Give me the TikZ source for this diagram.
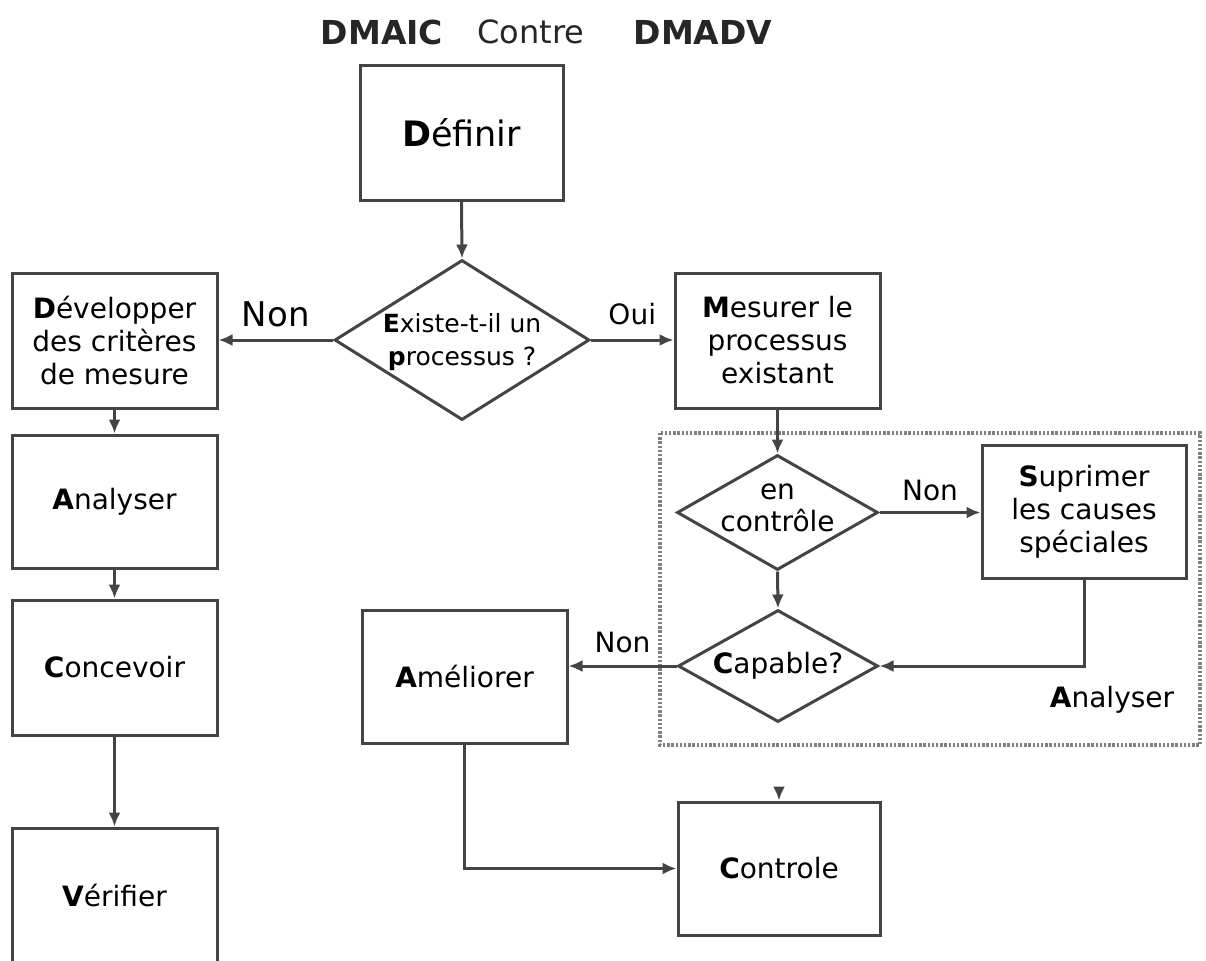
\documentclass[tikz,border=0pt]{standalone}
\usepackage{fontspec}
\setmainfont{DejaVu Sans}
\usetikzlibrary{arrows.meta,shapes.geometric}
\definecolor{ln}{HTML}{444444}
\definecolor{dotc}{HTML}{808080}
\tikzset{
  box/.style={draw=ln, line width=1.5pt, rectangle, minimum width=102.5pt, minimum height=67.5pt, inner sep=0pt, align=center, font=\fontsize{14}{16.5}\selectfont},
  dia/.style={draw=ln, line width=1.5pt, diamond, inner sep=0pt},
  arr/.style={draw=ln, line width=1.5pt, -{Latex[length=7pt,width=6pt]}},
  lbl/.style={font=\fontsize{14}{16}\selectfont, inner sep=0pt},
  dotbox/.style={draw=dotc, line width=1.8pt, dash pattern=on 1.2pt off 0.9pt},
  ttl/.style={font=\fontsize{16.5}{18}\selectfont, text=black!85, inner sep=0pt}
}
\begin{document}
\begin{tikzpicture}[x=0.5pt,y=-0.5pt]
\useasboundingbox (0,0) rectangle (1206,960);
% title
\node[ttl] (t1) at (382,32) {\textbf{DMAIC}};
\node[ttl, font=\fontsize{16}{18}\selectfont] (t2) at (531,32) {Contre};
\node[ttl] (t3) at (703,32) {\textbf{DMADV}};
% dotted group
\draw[dotbox] (660,433) rectangle (1200,745);
% boxes
\node[box, minimum width=101.5pt, font=\fontsize{17.5}{20}\selectfont] (def) at (461.5,132.5) {\textbf{D}éfinir};
\node[box] (dev) at (114.5,340.5) {\textbf{D}évelopper\\des critères\\de mesure};
\node[box, minimum height=66.5pt] (ana) at (114.5,501.5) {\textbf{A}nalyser};
\node[box] (con) at (114.5,667.5) {\textbf{C}oncevoir};
\node[box] (ver) at (114.5,895.5) {\textbf{V}érifier};
\node[box] (mes) at (777.5,340.5) {\textbf{M}esurer le\\processus\\existant};
\node[box, minimum width=102pt, minimum height=66.5pt] (sup) at (1084,511.5) {\textbf{S}uprimer\\les causes\\spéciales};
\node[box, minimum height=66.5pt] (ame) at (464.5,676.5) {\textbf{A}méliorer};
\node[box, minimum width=101pt, minimum height=66.5pt] (ctl) at (779,868.5) {\textbf{C}ontrole};
% diamonds
\node[dia, minimum width=127.5pt, minimum height=80pt,
  label={[align=center, font=\fontsize{12.5}{16.5}\selectfont, yshift=-1pt]center:\textbf{E}xiste-t-il un\\\textbf{p}rocessus ?}] (d1) at (462,340) {};
\node[dia, minimum width=100.5pt, minimum height=57.5pt,
  label={[align=center, font=\fontsize{14}{16}\selectfont, yshift=2.5pt]center:en\\contrôle}] (d2) at (777.5,512.5) {};
\node[dia, minimum width=100pt, minimum height=56pt,
  label={[font=\fontsize{14}{16}\selectfont]center:\textbf{C}apable?}] (d3) at (778,666) {};
% group label
\node[lbl] (anl) at (1112,700) {\textbf{A}nalyser};
% connectors
\draw[arr] (def.south) -- (d1.north);
\draw[arr] (d1.west) -- node[lbl, above=6pt, font=\fontsize{17}{18}\selectfont]{Non} (d1.west -| dev.east);
\draw[arr] (d1.east) -- node[lbl, above=7pt]{Oui} (d1.east -| mes.west);
\draw[arr] (dev.south) -- (ana.north);
\draw[arr] (ana.south) -- (con.north);
\draw[arr] (con.south) -- (ver.north);
\draw[arr] (mes.south) -- (mes.south |- d2.north);
\draw[arr] (d2.east) -- node[lbl, above=5pt]{Non} (d2.east -| sup.west);
\draw[arr] (d2.south) -- (d3.north);
\draw[arr] (sup.south) |- (d3.east);
\draw[arr] (d3.west) -- node[lbl, above=6pt]{Non} (d3.west -| ame.east);
\draw[arr] (ame.south) |- (ctl.west);
\coordinate (stub) at (779,788);
\draw[arr] (stub) -- (ctl.north);
\end{tikzpicture}
\end{document}
